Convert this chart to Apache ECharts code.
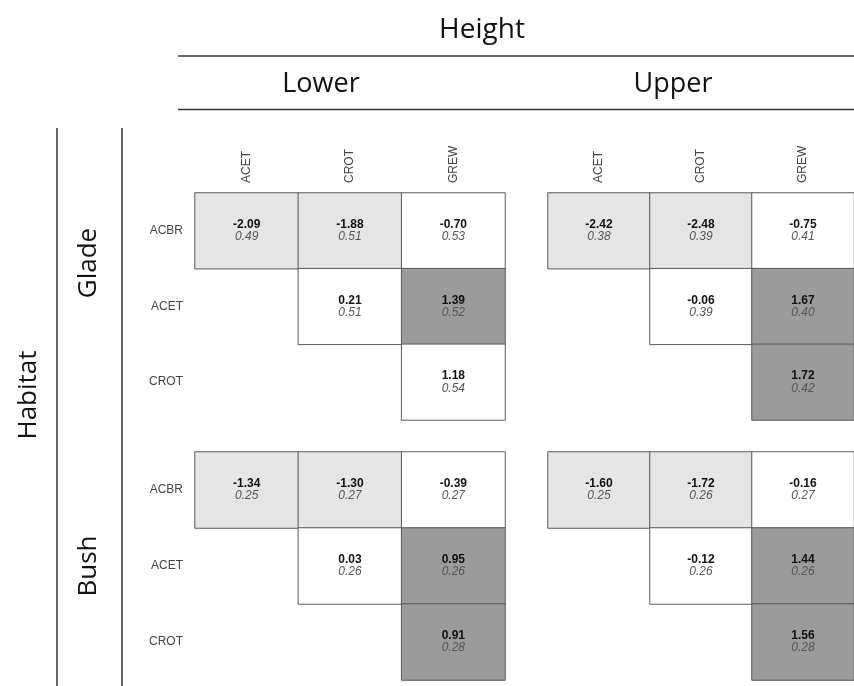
<!DOCTYPE html>
<html>
<head>
<meta charset="utf-8">
<script src="https://cdn.jsdelivr.net/npm/echarts@6/dist/echarts.min.js"></script>
<style>html,body{margin:0;padding:0;background:#fff;}#c{width:854px;height:686px;}</style>
</head>
<body>
<div id="c"></div>
<script>
// Data
const colCats = ['ACET', 'CROT', 'GREW'];
const rowCats = ['ACBR', 'ACET', 'CROT'];
const cellCol = [0, 1, 2, 1, 2, 2];
const cellRow = [0, 0, 0, 1, 1, 2];

const gladeLowerVal = [-2.09, -1.88, -0.70, 0.21, 1.39, 1.18];
const gladeLowerSE  = [0.49, 0.51, 0.53, 0.51, 0.52, 0.54];
const gladeLowerShade = ['neg', 'neg', 'none', 'none', 'pos', 'none'];

const gladeUpperVal = [-2.42, -2.48, -0.75, -0.06, 1.67, 1.72];
const gladeUpperSE  = [0.38, 0.39, 0.41, 0.39, 0.40, 0.42];
const gladeUpperShade = ['neg', 'neg', 'none', 'none', 'pos', 'pos'];

const bushLowerVal = [-1.34, -1.30, -0.39, 0.03, 0.95, 0.91];
const bushLowerSE  = [0.25, 0.27, 0.27, 0.26, 0.26, 0.28];
const bushLowerShade = ['neg', 'neg', 'none', 'none', 'pos', 'pos'];

const bushUpperVal = [-1.60, -1.72, -0.16, -0.12, 1.44, 1.56];
const bushUpperSE  = [0.25, 0.26, 0.27, 0.26, 0.26, 0.28];
const bushUpperShade = ['neg', 'neg', 'none', 'none', 'pos', 'pos'];

const heightTitle = 'Height';
const heightLevels = ['Lower', 'Upper'];
const habitatTitle = 'Habitat';
const habitatLevels = ['Glade', 'Bush'];

// Styling
const shadeColor = { neg: '#e5e5e5', none: '#ffffff', pos: '#9b9b9b' };
const headFont = '"Open Sans", "Noto Sans", sans-serif';
const smallFont = '"Liberation Sans", Arial, sans-serif';

const panels = [
  { val: gladeLowerVal, se: gladeLowerSE, shade: gladeLowerShade, left: 195, top: 193, h: 227, xl: true,  yl: true },
  { val: gladeUpperVal, se: gladeUpperSE, shade: gladeUpperShade, left: 548, top: 193, h: 227, xl: true,  yl: false },
  { val: bushLowerVal,  se: bushLowerSE,  shade: bushLowerShade,  left: 195, top: 452, h: 228, xl: false, yl: true },
  { val: bushUpperVal,  se: bushUpperSE,  shade: bushUpperShade,  left: 548, top: 452, h: 228, xl: false, yl: false }
];

const grid = [], xAxis = [], yAxis = [], series = [];
panels.forEach((p, i) => {
  grid.push({ left: p.left, top: p.top, width: 310, height: p.h, containLabel: false });
  xAxis.push({
    type: 'category', data: colCats, gridIndex: i, position: 'top',
    axisLine: { show: false }, axisTick: { show: false }, splitLine: { show: false },
    axisLabel: { show: p.xl, rotate: -90, margin: 10, color: '#444', fontSize: 12, fontFamily: smallFont }
  });
  yAxis.push({
    type: 'category', data: rowCats, gridIndex: i, inverse: true,
    axisLine: { show: false }, axisTick: { show: false }, splitLine: { show: false },
    axisLabel: { show: p.yl, margin: 12, color: '#444', fontSize: 12, fontFamily: smallFont }
  });
  series.push({
    type: 'heatmap', xAxisIndex: i, yAxisIndex: i,
    data: p.val.map((v, k) => ({
      value: [cellCol[k], cellRow[k], v],
      se: p.se[k],
      itemStyle: { color: shadeColor[p.shade[k]] }
    })),
    itemStyle: { borderColor: '#5a5a5a', borderWidth: 1 },
    emphasis: { disabled: true },
    label: {
      show: true,
      formatter: (d) => '{v|' + d.value[2].toFixed(2) + '}\n{s|' + d.data.se.toFixed(2) + '}',
      rich: {
        v: { fontSize: 12, fontWeight: 'bold', color: '#111', fontFamily: smallFont, lineHeight: 12 },
        s: { fontSize: 12, fontStyle: 'italic', color: '#555', fontFamily: smallFont, lineHeight: 12 }
      }
    }
  });
});

const lineStyle = { stroke: '#333', lineWidth: 1.5 };
function head(text, x, y, rot, size) {
  return { type: 'text', x: x, y: y, rotation: rot, style: { text: text, x: 0, y: 0, align: 'center', verticalAlign: 'middle', font: size + 'px ' + headFont, fill: '#111' } };
}
const graphic = [
  head(heightTitle, 482, 30, 0, 28),
  { type: 'line', shape: { x1: 178, y1: 56, x2: 854, y2: 56 }, style: lineStyle },
  head(heightLevels[0], 321, 84, 0, 27),
  head(heightLevels[1], 673, 84, 0, 27),
  { type: 'line', shape: { x1: 178, y1: 109.5, x2: 854, y2: 109.5 }, style: lineStyle },
  { type: 'line', shape: { x1: 57, y1: 128, x2: 57, y2: 686 }, style: lineStyle },
  { type: 'line', shape: { x1: 122, y1: 128, x2: 122, y2: 686 }, style: lineStyle },
  head(habitatTitle, 29, 395, Math.PI / 2, 26),
  head(habitatLevels[0], 89, 263, Math.PI / 2, 26),
  head(habitatLevels[1], 89, 566, Math.PI / 2, 26)
];

const chart = echarts.init(document.getElementById('c'), null, { renderer: 'canvas' });
chart.setOption({
  animation: false,
  backgroundColor: '#fff',
  grid, xAxis, yAxis, series, graphic
});
</script>
</body>
</html>
